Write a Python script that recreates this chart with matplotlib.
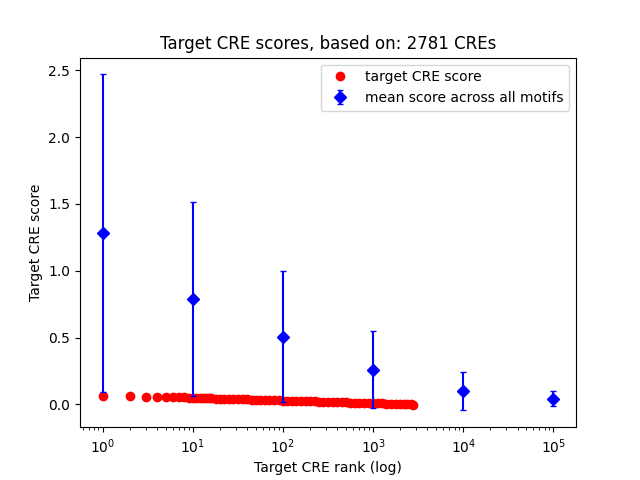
import matplotlib
matplotlib.use('Agg')
import matplotlib.pyplot as plt

# target CRE scores at selected ranks
ranks = [1, 2, 3, 4, 5, 6, 7, 8, 9, 10, 11, 12, 13, 14, 15, 16, 18, 20, 22, 25,
         28, 32, 36, 40, 45, 50, 56, 63, 70, 80, 90, 100, 112, 125, 140, 160,
         180, 200, 225, 250, 280, 320, 360, 400, 450, 500, 560, 630, 700, 800,
         900, 1000, 1120, 1250, 1400, 1600, 1800, 2000, 2200, 2400, 2600, 2781]
scores = [0.064, 0.064, 0.059, 0.058, 0.057, 0.055, 0.053, 0.052, 0.051, 0.050,
          0.049, 0.048, 0.047, 0.046, 0.046, 0.045, 0.044, 0.043, 0.042, 0.041,
          0.040, 0.039, 0.038, 0.037, 0.036, 0.035, 0.034, 0.033, 0.032, 0.031,
          0.030, 0.029, 0.028, 0.027, 0.026, 0.025, 0.024, 0.023, 0.022, 0.021,
          0.020, 0.019, 0.018, 0.017, 0.016, 0.015, 0.014, 0.013, 0.012, 0.011,
          0.010, 0.009, 0.008, 0.007, 0.006, 0.005, 0.004, 0.003, 0.002, 0.001,
          0.000, -0.002]

# mean score across all motifs with spread
mean_ranks = [1, 10, 100, 1000, 10000, 100000]
mean_scores = [1.28, 0.79, 0.505, 0.26, 0.10, 0.042]
mean_err = [1.19, 0.725, 0.49, 0.29, 0.145, 0.057]

fig, ax = plt.subplots(figsize=(6.4, 4.8), dpi=100)
ax.plot(ranks, scores, 'ro', label='target CRE score')
ax.errorbar(mean_ranks, mean_scores, yerr=mean_err, fmt='bD', capsize=2,
            label='mean score across all motifs')
ax.set_xscale('log')
ax.set_title('Target CRE scores, based on: 2781 CREs')
ax.set_xlabel('Target CRE rank (log)')
ax.set_ylabel('Target CRE score')
ax.legend(loc='upper right')

fig.savefig('out.png')
